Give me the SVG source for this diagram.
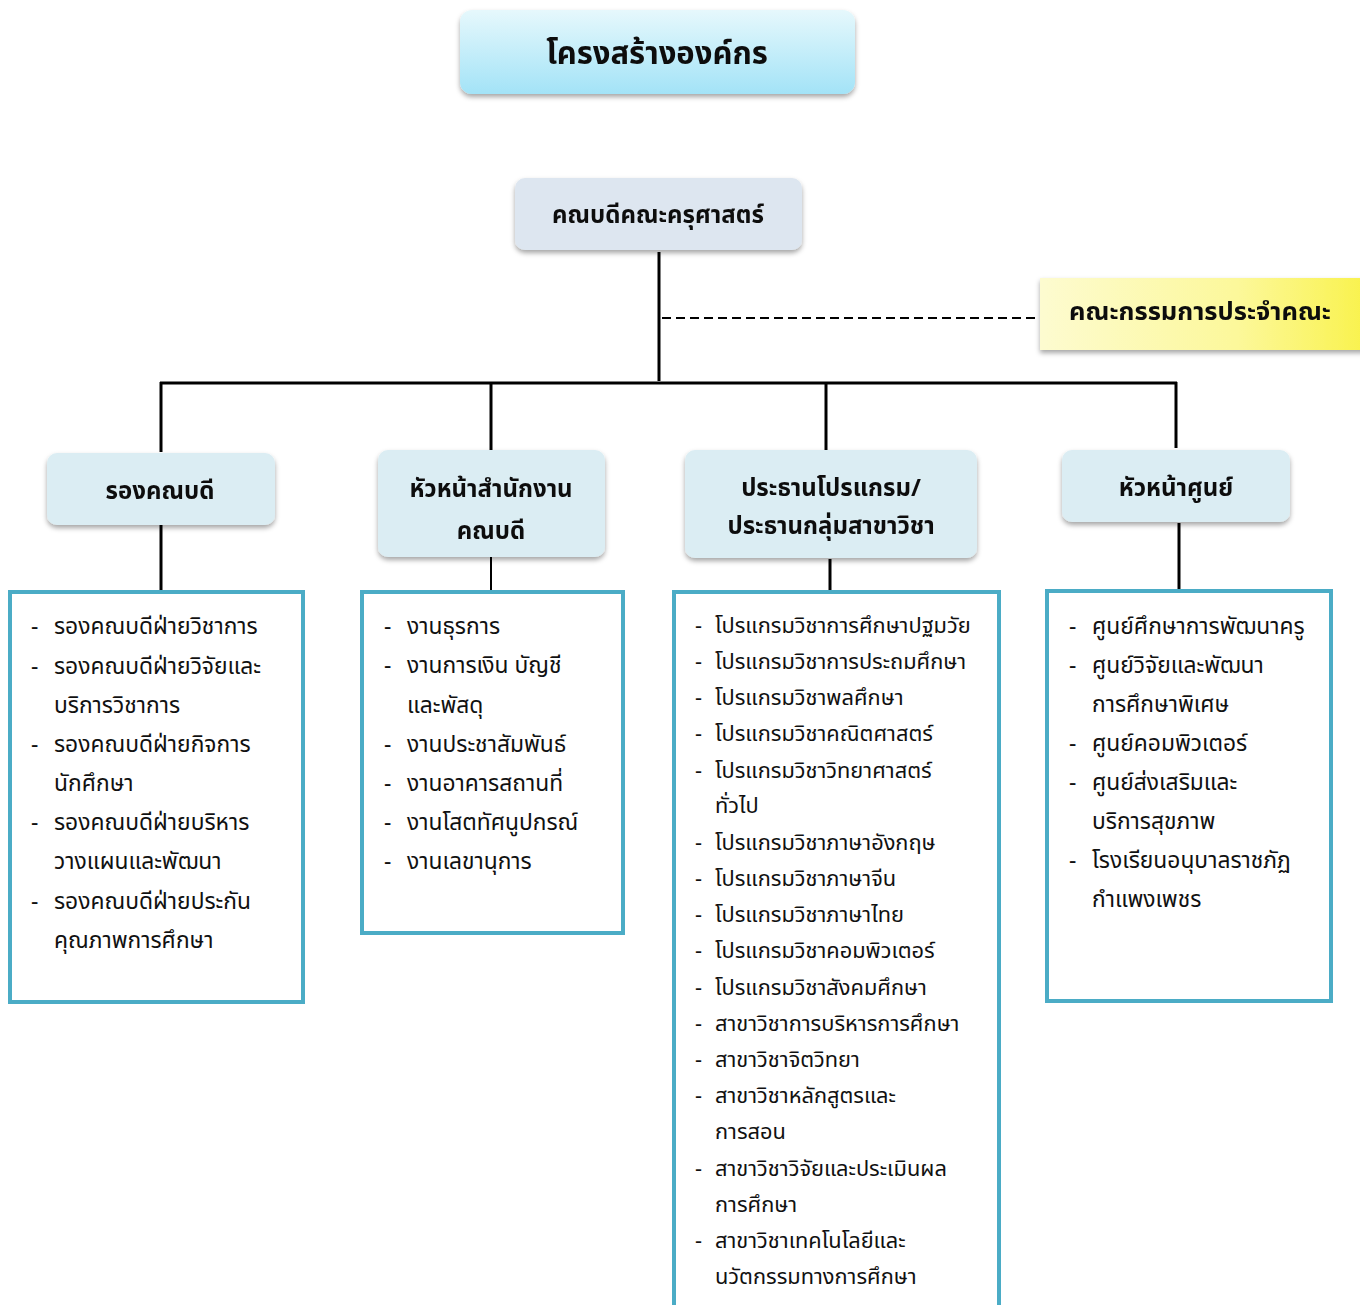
<svg xmlns="http://www.w3.org/2000/svg" width="1360" height="1305" viewBox="0 0 1360 1305">
<style>
.t{font-family:"Noto Sans Thai","Leelawadee UI","Tahoma","Noto Sans","DejaVu Sans",sans-serif;fill:#111}
.h{font-weight:bold;font-size:24px;text-anchor:middle}
.li{font-size:22.8px}
.li3{font-size:21.8px}
.box{fill:#fff;stroke:#4bacc6;stroke-width:4}
.l2{fill:#dbedf3}
.ln{stroke:#000;stroke-width:3;fill:none}
</style>
<defs>
<linearGradient id="gTitle" x1="0" y1="0" x2="0" y2="1">
<stop offset="0" stop-color="#e6f8fc"/><stop offset="1" stop-color="#a3e3f7"/>
</linearGradient>
<linearGradient id="gYel" x1="0" y1="0" x2="1" y2="0">
<stop offset="0" stop-color="#fdfbd0"/><stop offset="0.6" stop-color="#fcf89a"/><stop offset="1" stop-color="#f9f24a"/>
</linearGradient>
<filter id="sh" x="-10%" y="-20%" width="120%" height="150%">
<feDropShadow dx="0" dy="3" stdDeviation="2.5" flood-color="#000" flood-opacity="0.35"/>
</filter>
</defs>
<g id="connectors">
<line class="ln" x1="659" y1="252" x2="659" y2="381"/>
<line x1="662" y1="318" x2="1040" y2="318" stroke="#000" stroke-width="2" stroke-dasharray="9,5"/>
<line class="ln" x1="160" y1="383" x2="1177" y2="383"/>
<line class="ln" x1="161" y1="382" x2="161" y2="452"/>
<line class="ln" x1="491" y1="382" x2="491" y2="450"/>
<line class="ln" x1="826" y1="382" x2="826" y2="450"/>
<line class="ln" x1="1176" y1="382" x2="1176" y2="448"/>
<line class="ln" x1="161" y1="525" x2="161" y2="592"/>
<line x1="491" y1="557" x2="491" y2="591" stroke="#000" stroke-width="2"/>
<line class="ln" x1="830" y1="559" x2="830" y2="592"/>
<line class="ln" x1="1179" y1="523" x2="1179" y2="590"/>
</g>
<g id="title" filter="url(#sh)">
<rect x="460" y="10" width="395" height="84" rx="12" fill="url(#gTitle)"/>
<text class="t" x="657" y="64" font-size="31" font-weight="bold" text-anchor="middle">โครงสร้างองค์กร</text>
</g>
<g id="dean" filter="url(#sh)">
<rect x="515" y="178" width="287" height="72" rx="10" fill="#dde6f0"/>
<text class="t h" x="658" y="223">คณบดีคณะครุศาสตร์</text>
</g>
<g id="committee" filter="url(#sh)">
<rect x="1040" y="278" width="330" height="72" fill="url(#gYel)"/>
<text class="t h" x="1200" y="320" style="font-size:25.5px">คณะกรรมการประจำคณะ</text>
</g>
<g id="vice-dean" filter="url(#sh)">
<rect class="l2" x="47" y="453" width="228" height="72" rx="10"/>
<text class="t h" x="160" y="499">รองคณบดี</text>
</g>
<g id="office-head" filter="url(#sh)">
<rect class="l2" x="378" y="450" width="227" height="107" rx="10"/>
<text class="t h" x="491" y="497">หัวหน้าสำนักงาน</text>
<text class="t h" x="491" y="539">คณบดี</text>
</g>
<g id="program-chair" filter="url(#sh)">
<rect class="l2" x="685" y="450" width="292" height="108" rx="10"/>
<text class="t h" x="831" y="496">ประธานโปรแกรม/</text>
<text class="t h" x="831" y="534">ประธานกลุ่มสาขาวิชา</text>
</g>
<g id="center-head" filter="url(#sh)">
<rect class="l2" x="1062" y="450" width="228" height="72" rx="10"/>
<text class="t h" x="1176" y="496">หัวหน้าศูนย์</text>
</g>
<g id="list-vice-dean">
<rect class="box" x="10" y="592" width="293" height="410"/>
<g class="t li">
<text x="31" y="634">-</text><text x="54" y="634">รองคณบดีฝ่ายวิชาการ</text>
<text x="31" y="674">-</text><text x="54" y="674">รองคณบดีฝ่ายวิจัยและ</text>
<text x="54" y="713">บริการวิชาการ</text>
<text x="31" y="752">-</text><text x="54" y="752">รองคณบดีฝ่ายกิจการ</text>
<text x="54" y="791">นักศึกษา</text>
<text x="31" y="830">-</text><text x="54" y="830">รองคณบดีฝ่ายบริหาร</text>
<text x="54" y="869">วางแผนและพัฒนา</text>
<text x="31" y="909">-</text><text x="54" y="909">รองคณบดีฝ่ายประกัน</text>
<text x="54" y="948">คุณภาพการศึกษา</text>
</g>
</g>
<g id="list-office">
<rect class="box" x="362" y="592" width="261" height="341"/>
<g class="t li">
<text x="384" y="634">-</text><text x="407" y="634">งานธุรการ</text>
<text x="384" y="673">-</text><text x="407" y="673">งานการเงิน บัญชี</text>
<text x="407" y="713">และพัสดุ</text>
<text x="384" y="752">-</text><text x="407" y="752">งานประชาสัมพันธ์</text>
<text x="384" y="791">-</text><text x="407" y="791">งานอาคารสถานที่</text>
<text x="384" y="830">-</text><text x="407" y="830">งานโสตทัศนูปกรณ์</text>
<text x="384" y="869">-</text><text x="407" y="869">งานเลขานุการ</text>
</g>
</g>
<g id="list-programs">
<rect class="box" x="674" y="592" width="325" height="720"/>
<g class="t li3">
<text x="695" y="633">-</text><text x="715" y="633">โปรแกรมวิชาการศึกษาปฐมวัย</text>
<text x="695" y="669">-</text><text x="715" y="669">โปรแกรมวิชาการประถมศึกษา</text>
<text x="695" y="705">-</text><text x="715" y="705">โปรแกรมวิชาพลศึกษา</text>
<text x="695" y="741">-</text><text x="715" y="741">โปรแกรมวิชาคณิตศาสตร์</text>
<text x="695" y="778">-</text><text x="715" y="778">โปรแกรมวิชาวิทยาศาสตร์</text>
<text x="715" y="813">ทั่วไป</text>
<text x="695" y="850">-</text><text x="715" y="850">โปรแกรมวิชาภาษาอังกฤษ</text>
<text x="695" y="886">-</text><text x="715" y="886">โปรแกรมวิชาภาษาจีน</text>
<text x="695" y="922">-</text><text x="715" y="922">โปรแกรมวิชาภาษาไทย</text>
<text x="695" y="958">-</text><text x="715" y="958">โปรแกรมวิชาคอมพิวเตอร์</text>
<text x="695" y="995">-</text><text x="715" y="995">โปรแกรมวิชาสังคมศึกษา</text>
<text x="695" y="1031">-</text><text x="715" y="1031">สาขาวิชาการบริหารการศึกษา</text>
<text x="695" y="1067">-</text><text x="715" y="1067">สาขาวิชาจิตวิทยา</text>
<text x="695" y="1103">-</text><text x="715" y="1103">สาขาวิชาหลักสูตรและ</text>
<text x="715" y="1139">การสอน</text>
<text x="695" y="1176">-</text><text x="715" y="1176">สาขาวิชาวิจัยและประเมินผล</text>
<text x="715" y="1212">การศึกษา</text>
<text x="695" y="1248">-</text><text x="715" y="1248">สาขาวิชาเทคโนโลยีและ</text>
<text x="715" y="1284">นวัตกรรมทางการศึกษา</text>
</g>
</g>
<g id="list-centers">
<rect class="box" x="1047" y="591" width="284" height="410"/>
<g class="t li">
<text x="1069" y="634">-</text><text x="1092" y="634">ศูนย์ศึกษาการพัฒนาครู</text>
<text x="1069" y="673">-</text><text x="1092" y="673">ศูนย์วิจัยและพัฒนา</text>
<text x="1092" y="712">การศึกษาพิเศษ</text>
<text x="1069" y="751">-</text><text x="1092" y="751">ศูนย์คอมพิวเตอร์</text>
<text x="1069" y="790">-</text><text x="1092" y="790">ศูนย์ส่งเสริมและ</text>
<text x="1092" y="829">บริการสุขภาพ</text>
<text x="1069" y="868">-</text><text x="1092" y="868">โรงเรียนอนุบาลราชภัฏ</text>
<text x="1092" y="907">กำแพงเพชร</text>
</g>
</g>
</svg>
